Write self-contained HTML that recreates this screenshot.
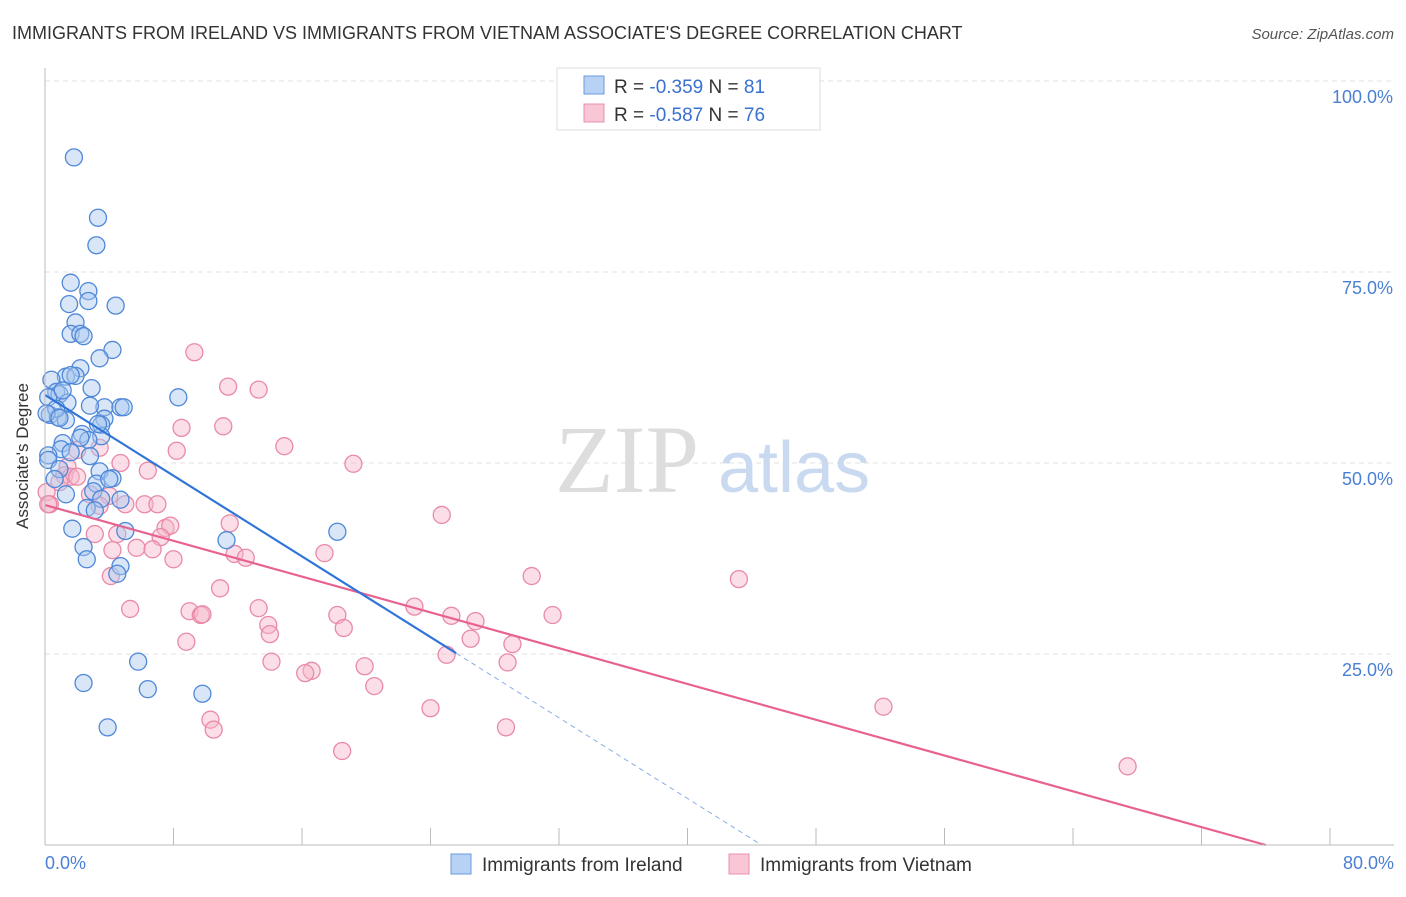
<!DOCTYPE html>
<html><head><meta charset="utf-8"><style>
body{margin:0;background:#fff;font-family:"Liberation Sans",sans-serif}
</style></head><body>
<svg width="1406" height="892" xmlns="http://www.w3.org/2000/svg" font-family="Liberation Sans, sans-serif">
<text x="12" y="39" font-size="18" fill="#333">IMMIGRANTS FROM IRELAND VS IMMIGRANTS FROM VIETNAM ASSOCIATE'S DEGREE CORRELATION CHART</text>
<text x="1394" y="39" font-size="15" fill="#555" font-style="italic" text-anchor="end">Source: ZipAtlas.com</text>
<g id="grid"></g>
<text x="555" y="492" font-size="96" fill="#ddd" font-family="Liberation Serif, serif">ZIP</text>
<text x="718" y="492" font-size="72" fill="#c9daf0">atlas</text>
<g id="pts"></g>
<g id="lines"></g>
<line x1="45" y1="68" x2="45" y2="845" stroke="#bbb"/>
<line x1="45" y1="845" x2="1394" y2="845" stroke="#bbb"/>
<text x="28" y="456" font-size="17" fill="#333" transform="rotate(-90 28 456)" text-anchor="middle">Associate's Degree</text>
<text x="45" y="869" font-size="18" fill="#4a7fd4">0.0%</text>
<text x="1394" y="869" font-size="18" fill="#4a7fd4" text-anchor="end">80.0%</text>
<g>
<rect x="557" y="68" width="263" height="62" fill="#fff" stroke="#ddd"/>
<rect x="584" y="76" width="20" height="18" fill="#b8d2f5" stroke="#6a9ae0"/>
<rect x="584" y="104" width="20" height="18" fill="#f9c6d6" stroke="#e890ad"/>
<text x="614" y="93" font-size="19" fill="#333">R = <tspan fill="#3a70d0">-0.359</tspan>   N = <tspan fill="#3a70d0">81</tspan></text>
<text x="614" y="121" font-size="19" fill="#333">R = <tspan fill="#3a70d0">-0.587</tspan>   N = <tspan fill="#3a70d0">76</tspan></text>
</g>
<g>
<rect x="451" y="854" width="20" height="20" fill="#b8d2f5" stroke="#6a9ae0"/>
<text x="482" y="871" font-size="19" fill="#333">Immigrants from Ireland</text>
<rect x="729" y="854" width="20" height="20" fill="#f9c6d6" stroke="#e890ad"/>
<text x="760" y="871" font-size="19" fill="#333">Immigrants from Vietnam</text>
</g>
</svg>
<script>
const yTicks=[25,50,75,100];
const yTickLabels=["25.0%","50.0%","75.0%","100.0%"];
const xTicks=[0,8,16,24,32,40,48,56,64,72,80];
const irelandX=[1.8,3.3,3.2,1.6,2.7,2.7,1.5,4.4,1.9,1.6,2.2,2.4,4.2,3.4,2.2,1.3,1.9,0.4,2.9,0.7,0.9,0.2,8.3,1.4,3.7,4.7,4.9,2.8,0.3,0.8,1.3,3.7,3.5,2.3,3.5,3.3,1.1,1.0,1.6,2.7,0.2,0.2,3.4,4.2,3.2,3.0,1.3,3.5,4.7,2.6,3.1,5.0,1.7,11.3,18.2,2.4,2.6,4.7,4.5,5.8,2.4,6.4,9.8,3.9,0.7,1.1,1.6,0.1,0.9,2.2,2.8,4.0,0.9,0.6];
const irelandY=[90.0,82.1,78.5,73.6,72.5,71.2,70.8,70.6,68.4,66.9,66.9,66.6,64.8,63.7,62.4,61.3,61.4,60.9,59.8,59.3,59.0,58.6,58.6,57.9,57.3,57.3,57.3,57.5,56.3,56.0,55.6,55.8,55.0,53.8,53.5,55.1,52.6,51.8,51.4,53.0,51.0,50.4,48.9,48.0,47.3,46.3,45.9,45.3,45.2,44.1,43.8,41.1,41.4,39.9,41.0,39.0,37.4,36.5,35.5,24.0,21.2,20.4,19.8,15.4,57.1,59.5,61.5,56.5,55.9,53.3,50.9,47.9,49.2,47.9];
const vietnamX=[9.3,11.4,13.3,11.1,8.5,14.9,8.2,19.2,6.4,24.7,2.0,1.4,1.2,1.6,2.0,0.9,0.1,0.3,0.2,2.8,4.0,3.4,5.0,6.2,7.0,7.5,7.8,7.2,11.5,4.5,3.1,4.2,5.7,6.7,8.0,11.8,12.5,17.4,30.3,43.2,4.1,10.9,5.3,9.0,9.7,9.8,13.3,23.0,18.2,25.3,26.8,31.6,13.9,14.0,18.6,26.5,29.1,8.8,25.0,14.1,16.6,16.2,19.9,28.8,20.5,52.2,24.0,10.3,10.5,28.7,18.5,67.4,4.7,3.4];
const vietnamY=[64.5,60.0,59.6,54.8,54.6,52.2,51.6,49.9,49.0,43.2,51.7,49.5,48.4,48.2,48.2,47.5,46.2,44.6,44.6,45.9,45.7,44.4,44.6,44.6,44.6,41.5,41.8,40.3,42.1,40.7,40.7,38.6,38.9,38.7,37.4,38.1,37.6,38.2,35.2,34.8,35.2,33.6,30.9,30.6,30.1,30.2,31.0,31.2,30.1,30.0,29.3,30.1,28.8,27.6,28.4,27.0,26.3,26.6,24.9,24.0,22.8,22.5,23.4,23.9,20.8,18.1,17.9,16.4,15.1,15.4,12.3,10.3,50.0,52.0];
const blueFit=[0,58.9,25.6,25.1];
const pinkFit=[0,44.5,76,0];
const NS="http://www.w3.org/2000/svg";
const sx=v=>45+v/80*1285, sy=v=>845-v/100*764;
const grid=document.getElementById('grid');
yTicks.forEach((t,i)=>{
 const l=document.createElementNS(NS,'line');
 
 
 l.setAttribute('x1',45);l.setAttribute('x2',1394);l.setAttribute('y1',sy(t));l.setAttribute('y2',sy(t));
 l.setAttribute('stroke','#e2e2e2');l.setAttribute('stroke-dasharray','5,4');grid.appendChild(l);
 const tx=document.createElementNS(NS,'text');
 
 
 tx.setAttribute('x',1393);tx.setAttribute('y',sy(t)+22);tx.setAttribute('text-anchor','end');
 tx.setAttribute('font-size','18');tx.setAttribute('fill','#4a7fd4');tx.textContent=yTickLabels[i];grid.appendChild(tx);
});
xTicks.forEach(t=>{
 const l=document.createElementNS(NS,'line');
 
 
 l.setAttribute('x1',sx(t));l.setAttribute('x2',sx(t));l.setAttribute('y1',828);l.setAttribute('y2',845);
 l.setAttribute('stroke','#bbb');grid.appendChild(l);
});
const pts=document.getElementById('pts');
function dots(xs,ys,fill,stroke,name){xs.forEach((x,i)=>{
 const c=document.createElementNS(NS,'circle');
 
 
 c.setAttribute('cx',sx(x));c.setAttribute('cy',sy(ys[i]));c.setAttribute('r',8.5);
 c.setAttribute('fill',fill);c.setAttribute('fill-opacity','0.45');c.setAttribute('stroke',stroke);c.setAttribute('stroke-width','1.3');
 pts.appendChild(c);});}
dots(vietnamX,vietnamY,'#f7b6ca','#e98aa8','vietnam-point');
dots(irelandX,irelandY,'#a9c8f0','#4f88d8','ireland-point');
const lines=document.getElementById('lines');
function ln(a,name,col,dash){const l=document.createElementNS(NS,'line');
 
 
 l.setAttribute('x1',sx(a[0]));l.setAttribute('y1',sy(a[1]));l.setAttribute('x2',sx(a[2]));l.setAttribute('y2',sy(a[3]));
 l.setAttribute('stroke',col);l.setAttribute('stroke-width',dash?1:2.2);if(dash)l.setAttribute('stroke-dasharray','5,4');lines.appendChild(l);}
ln(pinkFit,'vietnam-trendline','#e8628f');
ln(blueFit,'ireland-trendline','#2f74d8');
const slope=(blueFit[3]-blueFit[1])/(blueFit[2]-blueFit[0]);
const xEnd=-blueFit[1]/slope;
ln([blueFit[2],blueFit[3],xEnd,0],'ireland-trendline-extension','#8aaee6',true);
</script>
</body></html>
